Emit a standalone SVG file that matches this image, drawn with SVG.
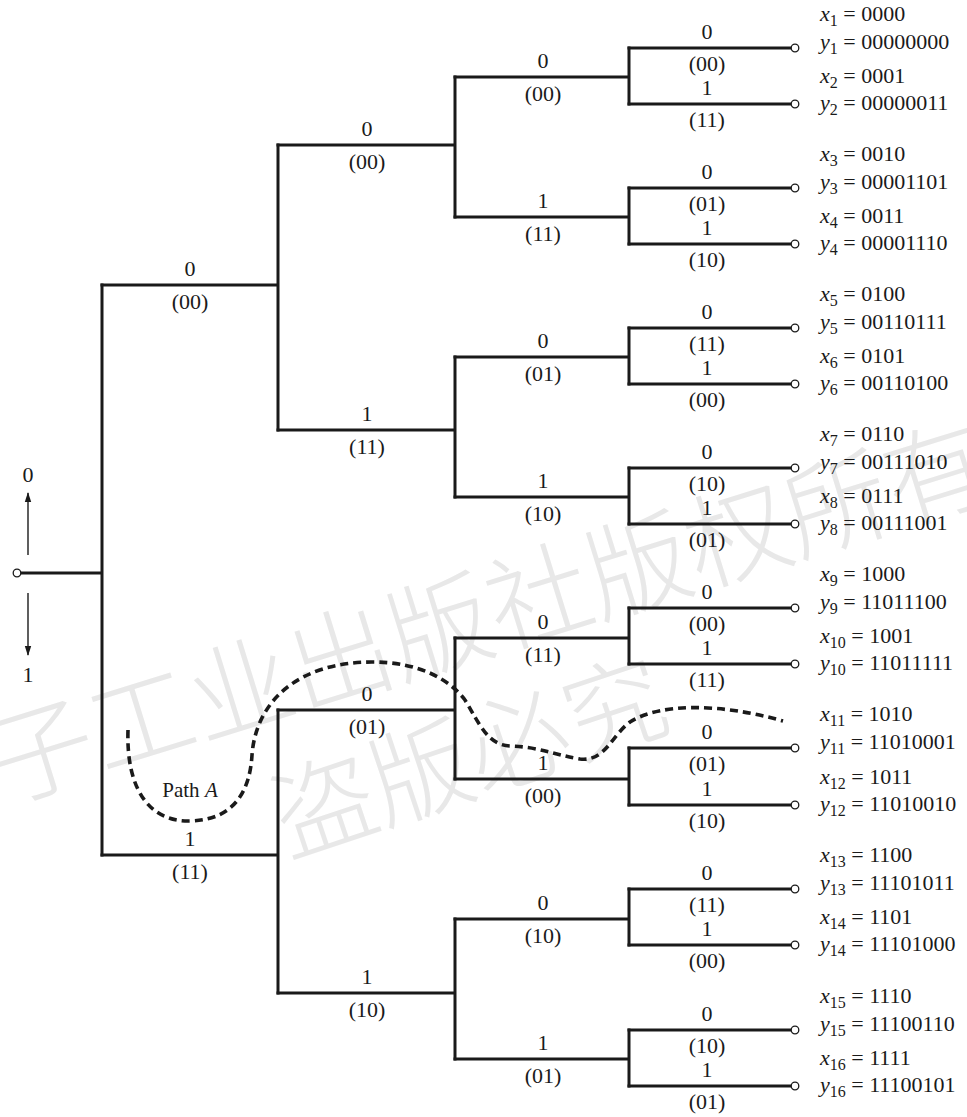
<svg xmlns="http://www.w3.org/2000/svg" width="967" height="1117" viewBox="0 0 967 1117">
<style>
.wm{font-family:"Noto Sans CJK SC",sans-serif;font-weight:300;fill:#e8e8e8}
.br{fill:none;stroke:#1a1a1a;stroke-width:3;stroke-linecap:square}
.lb{font-family:"Liberation Serif",serif;font-size:22px;fill:#1a1a1a;text-anchor:middle}
.lf{font-family:"Liberation Serif",serif;font-size:22px;fill:#1a1a1a}
.it{font-style:italic}
.sb{font-size:16px}
.term{fill:#fff;stroke:#1a1a1a;stroke-width:1.3}
.arr{stroke:#1a1a1a;stroke-width:1.4;fill:none}
.path{fill:none;stroke:#1a1a1a;stroke-width:3.6;stroke-dasharray:8 5}
</style>
<defs>
<marker id="ah" viewBox="0 0 10 10" refX="9" refY="5" markerWidth="10" markerHeight="11" markerUnits="userSpaceOnUse" orient="auto">
<path d="M0,1.8 L10,5 L0,8.2 z" fill="#1a1a1a"/>
</marker>
</defs>
<rect width="967" height="1117" fill="#fff"/>
<g id="watermark">
<text class="wm" x="487" y="605" font-size="104" text-anchor="middle" dominant-baseline="central" transform="rotate(-17.2 487 605)">子工业出版社版权所有</text>
<text class="wm" x="467" y="750" font-size="102" text-anchor="middle" dominant-baseline="central" transform="rotate(-18.5 467 750)">盗版必究</text>
</g>
<g id="connectors">
<path class="br" d="M21,573 H102 M102,285 V855"/>
<path class="br" d="M102,285 H278 M278,145 V430"/>
<path class="br" d="M102,855 H278 M278,710 V993"/>
<path class="br" d="M278,145 H455 M455,77 V217"/>
<path class="br" d="M278,430 H455 M455,357 V497"/>
<path class="br" d="M278,710 H455 M455,638 V779"/>
<path class="br" d="M278,993 H455 M455,919 V1059"/>
<path class="br" d="M455,77 H629 M629,48 V104"/>
<path class="br" d="M455,217 H629 M629,188 V244"/>
<path class="br" d="M455,357 H629 M629,328 V384"/>
<path class="br" d="M455,497 H629 M629,468 V524"/>
<path class="br" d="M455,638 H629 M629,608 V664"/>
<path class="br" d="M455,779 H629 M629,748 V805"/>
<path class="br" d="M455,919 H629 M629,889 V945"/>
<path class="br" d="M455,1059 H629 M629,1030 V1086"/>
<path class="br" d="M629,48 H790 M629,104 H790 M629,188 H790 M629,244 H790 M629,328 H790 M629,384 H790 M629,468 H790 M629,524 H790 M629,608 H790 M629,664 H790 M629,748 H790 M629,805 H790 M629,889 H790 M629,945 H790 M629,1030 H790 M629,1086 H790"/>
<line class="arr" x1="28" y1="555" x2="28" y2="493" marker-end="url(#ah)"/>
<line class="arr" x1="28" y1="593" x2="28" y2="655" marker-end="url(#ah)"/>
</g>
<g id="edge-labels">
<text class="lb" x="190" y="276">0</text><text class="lb" x="190" y="309">(00)</text>
<text class="lb" x="190" y="846">1</text><text class="lb" x="190" y="879">(11)</text>
<text class="lb" x="367" y="136">0</text><text class="lb" x="367" y="169">(00)</text>
<text class="lb" x="367" y="421">1</text><text class="lb" x="367" y="454">(11)</text>
<text class="lb" x="367" y="701">0</text><text class="lb" x="367" y="734">(01)</text>
<text class="lb" x="367" y="984">1</text><text class="lb" x="367" y="1017">(10)</text>
<text class="lb" x="543" y="68">0</text><text class="lb" x="543" y="101">(00)</text>
<text class="lb" x="543" y="208">1</text><text class="lb" x="543" y="241">(11)</text>
<text class="lb" x="543" y="348">0</text><text class="lb" x="543" y="381">(01)</text>
<text class="lb" x="543" y="488">1</text><text class="lb" x="543" y="521">(10)</text>
<text class="lb" x="543" y="629">0</text><text class="lb" x="543" y="662">(11)</text>
<text class="lb" x="543" y="770">1</text><text class="lb" x="543" y="803">(00)</text>
<text class="lb" x="543" y="910">0</text><text class="lb" x="543" y="943">(10)</text>
<text class="lb" x="543" y="1050">1</text><text class="lb" x="543" y="1083">(01)</text>
<text class="lb" x="707" y="39">0</text><text class="lb" x="707" y="71">(00)</text>
<text class="lb" x="707" y="95">1</text><text class="lb" x="707" y="127">(11)</text>
<text class="lb" x="707" y="179">0</text><text class="lb" x="707" y="211">(01)</text>
<text class="lb" x="707" y="235">1</text><text class="lb" x="707" y="267">(10)</text>
<text class="lb" x="707" y="319">0</text><text class="lb" x="707" y="351">(11)</text>
<text class="lb" x="707" y="375">1</text><text class="lb" x="707" y="407">(00)</text>
<text class="lb" x="707" y="459">0</text><text class="lb" x="707" y="491">(10)</text>
<text class="lb" x="707" y="515">1</text><text class="lb" x="707" y="547">(01)</text>
<text class="lb" x="707" y="599">0</text><text class="lb" x="707" y="631">(00)</text>
<text class="lb" x="707" y="655">1</text><text class="lb" x="707" y="687">(11)</text>
<text class="lb" x="707" y="739">0</text><text class="lb" x="707" y="771">(01)</text>
<text class="lb" x="707" y="796">1</text><text class="lb" x="707" y="828">(10)</text>
<text class="lb" x="707" y="880">0</text><text class="lb" x="707" y="912">(11)</text>
<text class="lb" x="707" y="936">1</text><text class="lb" x="707" y="968">(00)</text>
<text class="lb" x="707" y="1021">0</text><text class="lb" x="707" y="1053">(10)</text>
<text class="lb" x="707" y="1077">1</text><text class="lb" x="707" y="1109">(01)</text>
<text class="lb" x="28" y="482">0</text>
<text class="lb" x="28" y="682">1</text>
</g>
<g id="path-a">
<path class="path" d="M128,730 C126,790 150,822 190,821 C235,820 250,790 252,755 C256,700 300,662 372,662 C420,662 450,680 465,700 C480,725 488,745 510,746 C540,747 555,755 580,759 C605,762 612,735 630,722 C660,703 720,703 783,721"/>
<text class="lb" x="190" y="797" style="font-size:21px">Path <tspan class="it">A</tspan></text>
</g>
<g id="root"><circle class="term" cx="17" cy="573" r="3.8"/></g>
<g id="leaf1"><circle class="term" cx="795" cy="48" r="3.8"/><text class="lf" x="820" y="21"><tspan class="it">x</tspan><tspan class="sb" dy="5">1</tspan><tspan dy="-5"> = 0000</tspan></text><text class="lf" x="820" y="49"><tspan class="it">y</tspan><tspan class="sb" dy="5">1</tspan><tspan dy="-5"> = 00000000</tspan></text></g>
<g id="leaf2"><circle class="term" cx="795" cy="104" r="3.8"/><text class="lf" x="820" y="83"><tspan class="it">x</tspan><tspan class="sb" dy="5">2</tspan><tspan dy="-5"> = 0001</tspan></text><text class="lf" x="820" y="110"><tspan class="it">y</tspan><tspan class="sb" dy="5">2</tspan><tspan dy="-5"> = 00000011</tspan></text></g>
<g id="leaf3"><circle class="term" cx="795" cy="188" r="3.8"/><text class="lf" x="820" y="161"><tspan class="it">x</tspan><tspan class="sb" dy="5">3</tspan><tspan dy="-5"> = 0010</tspan></text><text class="lf" x="820" y="189"><tspan class="it">y</tspan><tspan class="sb" dy="5">3</tspan><tspan dy="-5"> = 00001101</tspan></text></g>
<g id="leaf4"><circle class="term" cx="795" cy="244" r="3.8"/><text class="lf" x="820" y="223"><tspan class="it">x</tspan><tspan class="sb" dy="5">4</tspan><tspan dy="-5"> = 0011</tspan></text><text class="lf" x="820" y="250"><tspan class="it">y</tspan><tspan class="sb" dy="5">4</tspan><tspan dy="-5"> = 00001110</tspan></text></g>
<g id="leaf5"><circle class="term" cx="795" cy="328" r="3.8"/><text class="lf" x="820" y="301"><tspan class="it">x</tspan><tspan class="sb" dy="5">5</tspan><tspan dy="-5"> = 0100</tspan></text><text class="lf" x="820" y="329"><tspan class="it">y</tspan><tspan class="sb" dy="5">5</tspan><tspan dy="-5"> = 00110111</tspan></text></g>
<g id="leaf6"><circle class="term" cx="795" cy="384" r="3.8"/><text class="lf" x="820" y="363"><tspan class="it">x</tspan><tspan class="sb" dy="5">6</tspan><tspan dy="-5"> = 0101</tspan></text><text class="lf" x="820" y="390"><tspan class="it">y</tspan><tspan class="sb" dy="5">6</tspan><tspan dy="-5"> = 00110100</tspan></text></g>
<g id="leaf7"><circle class="term" cx="795" cy="468" r="3.8"/><text class="lf" x="820" y="441"><tspan class="it">x</tspan><tspan class="sb" dy="5">7</tspan><tspan dy="-5"> = 0110</tspan></text><text class="lf" x="820" y="469"><tspan class="it">y</tspan><tspan class="sb" dy="5">7</tspan><tspan dy="-5"> = 00111010</tspan></text></g>
<g id="leaf8"><circle class="term" cx="795" cy="524" r="3.8"/><text class="lf" x="820" y="503"><tspan class="it">x</tspan><tspan class="sb" dy="5">8</tspan><tspan dy="-5"> = 0111</tspan></text><text class="lf" x="820" y="530"><tspan class="it">y</tspan><tspan class="sb" dy="5">8</tspan><tspan dy="-5"> = 00111001</tspan></text></g>
<g id="leaf9"><circle class="term" cx="795" cy="608" r="3.8"/><text class="lf" x="820" y="581"><tspan class="it">x</tspan><tspan class="sb" dy="5">9</tspan><tspan dy="-5"> = 1000</tspan></text><text class="lf" x="820" y="609"><tspan class="it">y</tspan><tspan class="sb" dy="5">9</tspan><tspan dy="-5"> = 11011100</tspan></text></g>
<g id="leaf10"><circle class="term" cx="795" cy="664" r="3.8"/><text class="lf" x="820" y="643"><tspan class="it">x</tspan><tspan class="sb" dy="5">10</tspan><tspan dy="-5"> = 1001</tspan></text><text class="lf" x="820" y="670"><tspan class="it">y</tspan><tspan class="sb" dy="5">10</tspan><tspan dy="-5"> = 11011111</tspan></text></g>
<g id="leaf11"><circle class="term" cx="795" cy="748" r="3.8"/><text class="lf" x="820" y="721"><tspan class="it">x</tspan><tspan class="sb" dy="5">11</tspan><tspan dy="-5"> = 1010</tspan></text><text class="lf" x="820" y="749"><tspan class="it">y</tspan><tspan class="sb" dy="5">11</tspan><tspan dy="-5"> = 11010001</tspan></text></g>
<g id="leaf12"><circle class="term" cx="795" cy="805" r="3.8"/><text class="lf" x="820" y="784"><tspan class="it">x</tspan><tspan class="sb" dy="5">12</tspan><tspan dy="-5"> = 1011</tspan></text><text class="lf" x="820" y="811"><tspan class="it">y</tspan><tspan class="sb" dy="5">12</tspan><tspan dy="-5"> = 11010010</tspan></text></g>
<g id="leaf13"><circle class="term" cx="795" cy="889" r="3.8"/><text class="lf" x="820" y="862"><tspan class="it">x</tspan><tspan class="sb" dy="5">13</tspan><tspan dy="-5"> = 1100</tspan></text><text class="lf" x="820" y="890"><tspan class="it">y</tspan><tspan class="sb" dy="5">13</tspan><tspan dy="-5"> = 11101011</tspan></text></g>
<g id="leaf14"><circle class="term" cx="795" cy="945" r="3.8"/><text class="lf" x="820" y="924"><tspan class="it">x</tspan><tspan class="sb" dy="5">14</tspan><tspan dy="-5"> = 1101</tspan></text><text class="lf" x="820" y="951"><tspan class="it">y</tspan><tspan class="sb" dy="5">14</tspan><tspan dy="-5"> = 11101000</tspan></text></g>
<g id="leaf15"><circle class="term" cx="795" cy="1030" r="3.8"/><text class="lf" x="820" y="1003"><tspan class="it">x</tspan><tspan class="sb" dy="5">15</tspan><tspan dy="-5"> = 1110</tspan></text><text class="lf" x="820" y="1031"><tspan class="it">y</tspan><tspan class="sb" dy="5">15</tspan><tspan dy="-5"> = 11100110</tspan></text></g>
<g id="leaf16"><circle class="term" cx="795" cy="1086" r="3.8"/><text class="lf" x="820" y="1065"><tspan class="it">x</tspan><tspan class="sb" dy="5">16</tspan><tspan dy="-5"> = 1111</tspan></text><text class="lf" x="820" y="1092"><tspan class="it">y</tspan><tspan class="sb" dy="5">16</tspan><tspan dy="-5"> = 11100101</tspan></text></g>
</svg>
